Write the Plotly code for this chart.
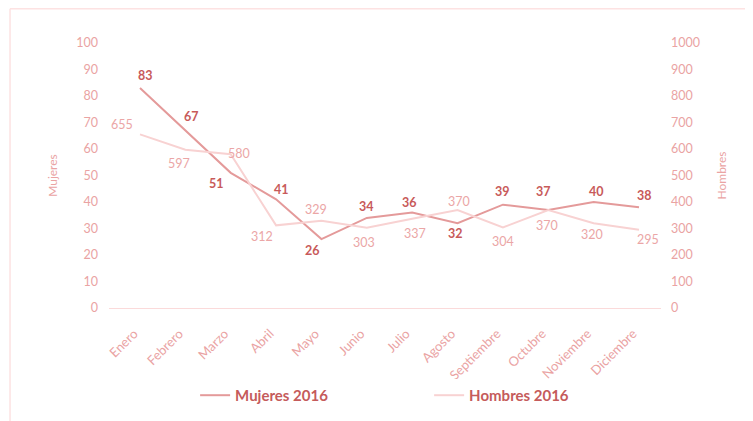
import plotly.graph_objects as go

meses = ['Enero', 'Febrero', 'Marzo', 'Abril', 'Mayo', 'Junio', 'Julio',
         'Agosto', 'Septiembre', 'Octubre', 'Noviembre', 'Diciembre']
mujeres_2016 = [83, 67, 51, 41, 26, 34, 36, 32, 39, 37, 40, 38]
hombres_2016 = [655, 597, 580, 312, 329, 303, 337, 370, 304, 370, 320, 295]

# desplazamiento (px) de cada etiqueta respecto a su punto, como en el original
off_mujeres = [(5, 13), (6, 14), (-14, -11), (5, 10), (-9, -11), (0, 11),
               (-3, 10), (-2, -10), (0, 13), (-5, 18), (3, 11), (5, 12)]
off_hombres = [(-18, 10), (-6, -14), (8, 1), (-14, -11), (-5, 11), (-3, -15),
               (3, -15), (1, 8), (0, -14), (-1, -16), (-2, -11), (9, -10)]

FONT = 'Lato'
tick_color = '#eaa3a3'

fig = go.Figure()

fig.add_trace(go.Scatter(
    x=meses, y=hombres_2016, name='Hombres 2016', yaxis='y2', mode='lines',
    line=dict(color='#f8d2d2', width=2)
))
fig.add_trace(go.Scatter(
    x=meses, y=mujeres_2016, name='Mujeres 2016', mode='lines',
    line=dict(color='#e49a9a', width=2)
))

annotations = []
for mes, v, (dx, dy) in zip(meses, hombres_2016, off_hombres):
    annotations.append(dict(x=mes, y=v, xref='x', yref='y2', text=str(v),
                            showarrow=False, xshift=dx, yshift=dy,
                            font=dict(family=FONT, size=12.5, color='#eba6a6')))
for mes, v, (dx, dy) in zip(meses, mujeres_2016, off_mujeres):
    annotations.append(dict(x=mes, y=v, xref='x', yref='y', text=str(v),
                            showarrow=False, xshift=dx, yshift=dy,
                            font=dict(family=FONT, size=12.5, color='#c85a5a', weight='bold')))

# marco de la imagen (borde rosa claro)
frame = dict(type='line', xref='paper', yref='paper',
             line=dict(color='#fde2e2', width=1.5))

fig.update_layout(
    width=745, height=413,
    margin=dict(l=101, r=92, t=35, b=113, autoexpand=False),
    paper_bgcolor='white', plot_bgcolor='white',
    font=dict(family=FONT, color=tick_color, size=12),
    showlegend=True,
    legend=dict(orientation='h', x=0.156, xanchor='left', y=-0.33, yanchor='middle',
                traceorder='reversed', entrywidth=189,
                font=dict(family=FONT, size=15, color='#c55b5b', weight='bold')),
    xaxis=dict(showgrid=False, showline=True, linecolor='#fbdada', linewidth=1,
               tickangle=-45, ticks='', ticklabelstandoff=12, ticklabelshift=-6,
               tickfont=dict(size=13, color=tick_color),
               zeroline=False, automargin=False),
    yaxis=dict(range=[0, 100], dtick=10, showgrid=False, zeroline=False, automargin=False,
               ticklabelstandoff=10,
               title=dict(text='Mujeres', font=dict(size=12, color=tick_color), standoff=16),
               tickfont=dict(size=12.5, color=tick_color)),
    yaxis2=dict(range=[0, 1000], dtick=100, overlaying='y', side='right', automargin=False,
                showgrid=False, zeroline=False, ticklabelstandoff=9,
                title=dict(text='Hombres', font=dict(size=12, color=tick_color), standoff=18),
                tickfont=dict(size=12.5, color=tick_color)),
    annotations=annotations,
    shapes=[
        dict(frame, x0=-0.1793, x1=1.2, y0=1.129, y1=1.129),
        dict(frame, x0=-0.1793, x1=-0.1793, y0=1.129, y1=-0.45),
    ],
)

fig.write_html('out.html')
